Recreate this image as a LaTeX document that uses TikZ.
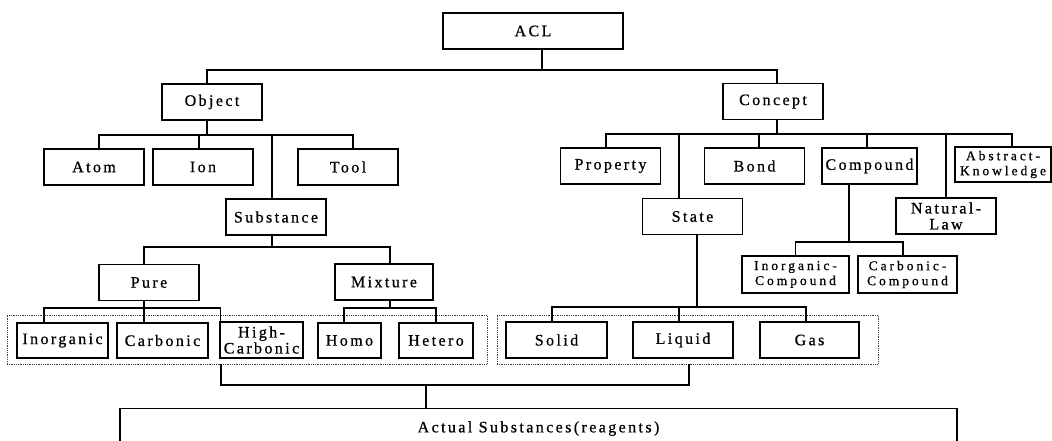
\documentclass[tikz,border=0pt]{standalone}
\usepackage{fontspec}
\setmainfont{Liberation Serif}[LetterSpace=15, FakeBold=0.7]
\newfontfamily\smallf{Liberation Serif}[LetterSpace=22, FakeBold=0.7]
\begin{document}
\begin{tikzpicture}[x=1pt,y=-1pt,
  box/.style={draw, line width=1.1pt, minimum width=100pt, minimum height=36pt, inner sep=0pt, font=\fontsize{16}{17}\selectfont},
  two/.style={align=center, font=\fontsize{16}{16}\selectfont},
  small/.style={align=center, font=\smallf\fontsize{13.5}{15}\selectfont},
  grp/.style={draw=black!75, densely dotted, line width=0.8pt, inner sep=0pt},
  conn/.style={line width=1.1pt}]
\clip (0,0) rectangle (1052,441);
\useasboundingbox (0,0) rectangle (1052,441);
% nodes
\node[box, minimum width=180pt] (acl) at (533,31) {ACL};
\node[box] (obj) at (212,102) {Object};
\node[box] (con) at (773,101.5) {Concept};
\node[box] (atom) at (94,167) {Atom};
\node[box] (ion) at (203,167) {Ion};
\node[box] (tool) at (348,167) {Tool};
\node[box] (sub) at (276,217) {Substance};
\node[box] (prop) at (610.5,166) {Property};
\node[box] (bond) at (754.5,166) {Bond};
\node[box, minimum width=95pt] (cmp) at (869.5,166) {Compound};
\node[box, minimum width=96pt, minimum height=35pt, small] (abs) at (1003,164.5) {Abstract-\\Knowledge};
\node[box] (state) at (692.5,216.5) {State};
\node[box, two] (nat) at (946,216) {Natural-\\Law};
\node[box, minimum width=107pt, minimum height=37pt, small] (icmp) at (795.5,274.5) {Inorganic-\\Compound};
\node[box, minimum width=99pt, minimum height=37pt, small] (ccmp) at (907.5,274.5) {Carbonic-\\Compound};
\node[box] (pure) at (149,282.5) {Pure};
\node[box, minimum width=98pt] (mix) at (384,282) {Mixture};
\node[grp, minimum width=480pt, minimum height=49pt] (g1) at (247,339.5) {};
\node[grp, minimum width=381pt, minimum height=49pt] (g2) at (687.5,339.5) {};
\node[box, minimum width=91pt, minimum height=35pt] (inorg) at (62.5,340.5) {Inorganic};
\node[box, minimum width=91pt, minimum height=35pt] (carb) at (162.5,340.5) {Carbonic};
\node[box, minimum width=83pt, two] (hcarb) at (261.5,340) {High-\\Carbonic};
\node[box, minimum width=63pt, minimum height=35pt] (homo) at (349.5,340.5) {Homo};
\node[box, minimum width=74pt, minimum height=35pt] (het) at (436,340.5) {Hetero};
\node[box, minimum width=101pt] (solid) at (556.5,340) {Solid};
\node[box] (liq) at (683,340) {Liquid};
\node[box, minimum width=99pt] (gas) at (809.5,340) {Gas};
\node[box, minimum width=837pt, minimum height=40pt, anchor=north] (act) at (538.5,408) {Actual Substances(reagents)};
% connectors
\coordinate (aclbus) at (542,70);
\draw[conn] ([xshift=9pt]acl.south) -- (aclbus);
\draw[conn] ([xshift=-5pt]obj.north) |- (aclbus);
\draw[conn] ([xshift=4pt]con.north) |- (aclbus);
\coordinate (objbus) at (207,135);
\draw[conn] ([xshift=-5pt]obj.south) -- (objbus);
\draw[conn] ([xshift=5pt]atom.north) |- (objbus);
\draw[conn] ([xshift=-4pt]ion.north) |- (objbus);
\draw[conn] ([xshift=-4pt]sub.north) |- (objbus);
\draw[conn] ([xshift=5pt]tool.north) |- (objbus);
\coordinate (conbus) at (777,134);
\draw[conn] ([xshift=4pt]con.south) -- (conbus);
\draw[conn] ([xshift=-4.5pt]prop.north) |- (conbus);
\draw[conn] ([xshift=-13.5pt]state.north) |- (conbus);
\draw[conn] ([xshift=4.5pt]bond.north) |- (conbus);
\draw[conn] ([xshift=-2.5pt]cmp.north) |- (conbus);
\draw[conn] (nat.north) |- (conbus);
\draw[conn] ([xshift=9pt]abs.north) |- (conbus);
\coordinate (cmpbus) at (849,242);
\draw[conn] ([xshift=-20.5pt]cmp.south) -- (cmpbus);
\draw[conn] (icmp.north) |- (cmpbus);
\draw[conn] ([xshift=-4.5pt]ccmp.north) |- (cmpbus);
\coordinate (statebus) at (697,307);
\draw[conn] ([xshift=4.5pt]state.south) -- (statebus);
\draw[conn] ([xshift=-4.5pt]solid.north) |- (statebus);
\draw[conn] ([xshift=-4pt]liq.north) |- (statebus);
\draw[conn] ([xshift=-3.5pt]gas.north) |- (statebus);
\coordinate (subbus) at (272,247);
\draw[conn] ([xshift=-4pt]sub.south) -- (subbus);
\draw[conn] ([xshift=-5pt]pure.north) |- (subbus);
\draw[conn] ([xshift=6pt]mix.north) |- (subbus);
\coordinate (purebus) at (144,308);
\draw[conn] ([xshift=-5pt]pure.south) -- (purebus);
\draw[conn] ([xshift=-18.5pt]inorg.north) |- (purebus);
\draw[conn] ([xshift=-18.5pt]carb.north) |- (purebus);
\draw[conn] ([xshift=1pt]hcarb.north west) |- (purebus);
\coordinate (mixbus) at (390,308);
\draw[conn] ([xshift=6pt]mix.south) -- (mixbus);
\draw[conn] ([xshift=-5.5pt]homo.north) |- (mixbus);
\draw[conn] (het.north) |- (mixbus);
\coordinate (gbus) at (426,385);
\draw[conn] ([xshift=1.5pt]g2.south) |- (gbus);
\draw[conn] ([xshift=-26pt]g1.south) |- (gbus);
\draw[conn] (act.north -| gbus) -- (gbus);
\end{tikzpicture}
\end{document}
